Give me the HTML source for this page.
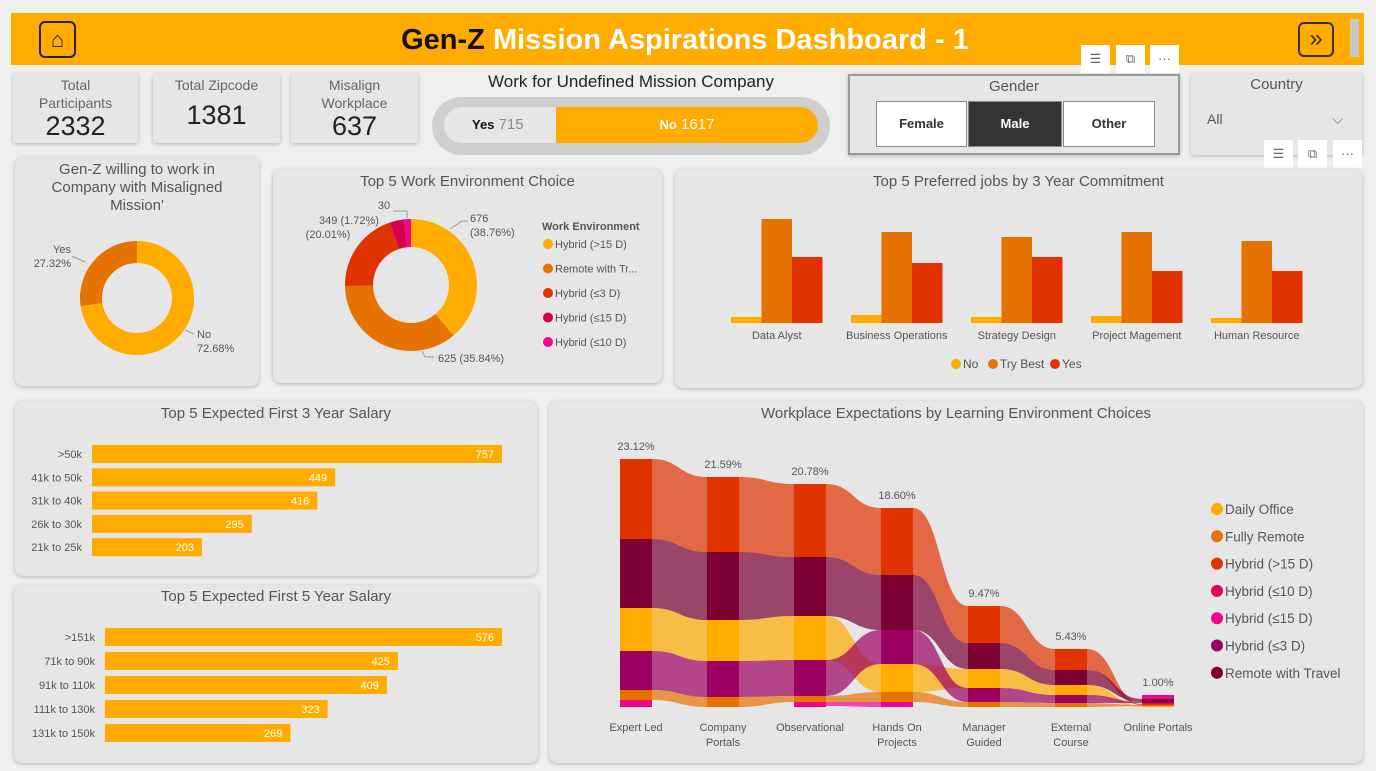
<!DOCTYPE html>
<html><head><meta charset="utf-8">
<style>
*{box-sizing:border-box;margin:0;padding:0}
body{width:1376px;height:771px;overflow:hidden;background:#efefef;font-family:"Liberation Sans Narrow","Liberation Sans",sans-serif;color:#555;position:relative}
.p{position:absolute;background:#e6e6e6;border-radius:8px;box-shadow:0 1px 4px rgba(0,0,0,.25)}
.t{position:absolute;left:0;right:0;text-align:center;font-size:15px;color:#555}
.kpi .l{font-size:14px;color:#666;text-align:center;line-height:18px;margin-top:2px}
.kpi .v{font-size:27px;color:#222;text-align:center}
.btn{position:absolute;border:1px solid #888;background:#fff;font-size:13px;font-weight:bold;color:#333;text-align:center;line-height:44px}
.ic{position:absolute;width:29px;height:28px;background:#fff;color:#666;font-size:13px;text-align:center;line-height:28px}
svg{position:absolute;left:0;top:0}
</style></head><body>
<div style="position:absolute;left:11px;top:13px;width:1353px;height:52px;background:#ffab00"></div>
<div style="position:absolute;left:39px;top:21px;width:37px;height:37px;border:2px solid #222;border-radius:6px;font-size:22px;text-align:center;line-height:33px;color:#222">⌂</div>
<div style="position:absolute;left:300px;top:24px;width:770px;text-align:center;font-family:'Liberation Sans',sans-serif;font-weight:bold;font-size:29px;color:#111">Gen-Z <span style="color:#fff">Mission Aspirations Dashboard - 1</span></div>
<div style="position:absolute;left:1298px;top:22px;width:36px;height:35px;border:2px solid #333;border-radius:6px;font-size:24px;text-align:center;line-height:30px;color:#333">»</div>
<div style="position:absolute;left:1350px;top:19px;width:9px;height:38px;background:#c8c8c8"></div>

<div class="p kpi" style="left:13px;top:74px;width:125px;height:69px;border-radius:2px"><div class="l">Total<br>Participants</div><div class="v" style="line-height:28px">2332</div></div>
<div class="p kpi" style="left:153px;top:74px;width:127px;height:69px;border-radius:2px"><div class="l">Total Zipcode</div><div class="v" style="margin-top:6px">1381</div></div>
<div class="p kpi" style="left:291px;top:74px;width:127px;height:69px;border-radius:2px"><div class="l">Misalign<br>Workplace</div><div class="v" style="line-height:28px">637</div></div>

<div style="position:absolute;left:432px;top:72px;width:398px;text-align:center;font-size:17px;color:#222">Work for Undefined Mission Company</div>
<div style="position:absolute;left:432px;top:97px;width:398px;height:58px;background:#cfcfcf;border-radius:29px"></div>
<div style="position:absolute;left:444px;top:107px;width:112px;height:36px;background:#e6e6e6;border-radius:18px 0 0 18px;font-size:15px;line-height:36px;padding-left:28px;color:#888"><b style="color:#111;font-size:13px">Yes</b> 715</div>
<div style="position:absolute;left:556px;top:107px;width:262px;height:36px;background:#ffab00;border-radius:0 18px 18px 0;font-size:15px;line-height:36px;text-align:center;color:#fff"><b style="font-size:13px">No</b> 1617</div>

<div class="p" style="left:848px;top:74px;width:332px;height:81px;border-radius:0;border:2px solid #999"><div class="t" style="top:2px">Gender</div></div>
<div class="btn" style="left:876px;top:101px;width:91px;height:46px">Female</div>
<div class="btn" style="left:968px;top:101px;width:94px;height:46px;background:#333;color:#fff">Male</div>
<div class="btn" style="left:1063px;top:101px;width:92px;height:46px">Other</div>
<div class="ic" style="left:1081px;top:45px">☰</div>
<div class="ic" style="left:1116px;top:45px">⧉</div>
<div class="ic" style="left:1150px;top:45px">···</div>

<div class="p" style="left:1191px;top:74px;width:171px;height:81px;border-radius:0"><div class="t" style="top:2px">Country</div>
<div style="position:absolute;left:10px;top:32px;width:148px;height:26px;font-size:14px;color:#555;padding-left:6px;line-height:26px">All<span style="position:absolute;right:6px;color:#777">⌵</span></div></div>
<div class="ic" style="left:1264px;top:140px">☰</div>
<div class="ic" style="left:1298px;top:140px">⧉</div>
<div class="ic" style="left:1333px;top:140px">···</div>

<div class="p" style="left:15px;top:157px;width:244px;height:229px"><div class="t" style="top:4px;line-height:18px">Gen-Z willing to work in<br>Company with Misaligned<br>Mission'</div></div>
<div class="p" style="left:273px;top:169px;width:389px;height:214px"><div class="t" style="top:4px">Top 5 Work Environment Choice</div></div>
<div class="p" style="left:675px;top:169px;width:687px;height:219px"><div class="t" style="top:4px">Top 5 Preferred jobs by 3 Year Commitment</div></div>
<div class="p" style="left:15px;top:401px;width:522px;height:175px"><div class="t" style="top:4px">Top 5 Expected First 3 Year Salary</div></div>
<div class="p" style="left:14px;top:585px;width:524px;height:178px"><div class="t" style="top:3px">Top 5 Expected First 5 Year Salary</div></div>
<div class="p" style="left:549px;top:401px;width:814px;height:362px"><div class="t" style="top:4px">Workplace Expectations by Learning Environment Choices</div></div>

<svg id="s" width="1376" height="771" font-family="Liberation Sans Narrow, Liberation Sans, sans-serif"></svg>
<script>
// ---------- data ----------
const misCats=["No","Yes"];
const misVals=[72.68,27.32];
const misLabels=["No\n72.68%","Yes\n27.32%"];
const envCats=["Hybrid (>15 D)","Remote with Tr...","Hybrid (≤3 D)","Hybrid (≤15 D)","Hybrid (≤10 D)"];
const envVals=[676,625,349,60,30];
const jobCats=["Data Alyst","Business Operations","Strategy Design","Project Magement","Human Resource"];
const jobNo=[6,8,6,7,5];
const jobTry=[104,91,86,91,82];
const jobYes=[66,60,66,52,52];
const sal3Cats=[">50k","41k to 50k","31k to 40k","26k to 30k","21k to 25k"];
const sal3Vals=[757,449,416,295,203];
const sal5Cats=[">151k","71k to 90k","91k to 110k","111k to 130k","131k to 150k"];
const sal5Vals=[576,425,409,323,269];
const ribCats=["Expert Led","Company\nPortals","Observational","Hands On\nProjects","Manager\nGuided","External\nCourse","Online Portals"];
const ribPct=["23.12%","21.59%","20.78%","18.60%","9.47%","5.43%","1.00%"];
const ribSeries=["Daily Office","Fully Remote","Hybrid (>15 D)","Hybrid (≤10 D)","Hybrid (≤15 D)","Hybrid (≤3 D)","Remote with Travel"];
const ribDaily=[43,41,44,28,19,10,1];
const ribRemote=[10,10,6,10,5,4,1];
const ribH15=[80,75,73,67,37,21,1];
const ribH10=[1,0,1,0,0,0,1];
const ribHle15=[6,0,4,5,0,0,4];
const ribH3=[39,36,36,34,14,8,1];
const ribTravel=[69,68,59,55,26,15,3];

const S=document.getElementById('s'),NS="http://www.w3.org/2000/svg";
function el(tag,a,txt){const e=document.createElementNS(NS,tag);for(const k in a)e.setAttribute(k,a[k]);if(txt!=null)e.textContent=txt;S.appendChild(e);return e;}
function txt(x,y,s,o){o=o||{};const lines=String(s).split("\n");lines.forEach((l,i)=>{const e=el('text',{x:x,y:y+i*(o.lh||14),'font-size':o.fs||11,fill:o.fill||'#555','text-anchor':o.anchor||'middle','font-weight':o.fw||'normal'},l);

});}

// ---------- donut helper ----------
function donut(cx,cy,R,r,vals,cols,nm){const tot=vals.reduce((a,b)=>a+b,0);let a0=-Math.PI/2;
vals.forEach((v,i)=>{const a1=a0+v/tot*2*Math.PI;const lg=(a1-a0)>Math.PI?1:0;
const p=`M${cx+R*Math.cos(a0)},${cy+R*Math.sin(a0)}A${R},${R} 0 ${lg} 1 ${cx+R*Math.cos(a1)},${cy+R*Math.sin(a1)}L${cx+r*Math.cos(a1)},${cy+r*Math.sin(a1)}A${r},${r} 0 ${lg} 0 ${cx+r*Math.cos(a0)},${cy+r*Math.sin(a0)}Z`;
const e=el('path',{d:p,fill:cols[i]});


a0=a1;});}
donut(137,298,57,35,misVals,["#ffab00","#e67300"],'misaligned');
txt(197,338,misLabels[0],{anchor:'start',name:'donut-label'});
txt(71,253,misLabels[1],{anchor:'end',name:'donut-label'});
el('polyline',{points:"185,330 194,334",stroke:'#999',fill:'none'});
el('polyline',{points:"72,256 85,262",stroke:'#999',fill:'none'});

const envCols=["#ffab00","#e67300","#e03300","#d4004f","#f0058f"];
donut(411,285,66,38,envVals,envCols,'work-env');
txt(470,222,"676\n(38.76%)",{anchor:'start',name:'donut-label'});
txt(438,362,"625 (35.84%)",{anchor:'start',name:'donut-label'});
txt(349,224,"349 (1.72%)",{anchor:'middle',name:'donut-label'});
txt(328,238,"(20.01%)",{anchor:'middle',name:'donut-label'});
txt(384,209,"30",{anchor:'middle',name:'donut-label'});
el('polyline',{points:"450,229 462,221 468,221",stroke:'#999',fill:'none'});
el('polyline',{points:"422,351 425,357 434,357",stroke:'#999',fill:'none'});
el('polyline',{points:"374,222 367,226",stroke:'#999',fill:'none'});
el('polyline',{points:"393,211 407,211 407,218",stroke:'#999',fill:'none'});
txt(542,230,"Work Environment",{anchor:'start',fw:'bold',name:'legend-title'});
envCats.forEach((c,i)=>{const y=244+i*24.5;const d=el('circle',{cx:548,cy:y,r:5,fill:envCols[i]});


txt(555,y+4,c,{anchor:'start',name:'legend-entry'});});

// ---------- grouped bars ----------
const jb0=323,jx0=731,jstep=120,jw=30.5;
const jy=v=>jb0-v;
[[jobNo,"#ffab00"],[jobTry,"#e67300"],[jobYes,"#e03300"]].forEach((s,k)=>{s[0].forEach((v,i)=>{const r=el('rect',{x:jx0+i*jstep+k*jw,y:jy(v),width:jw,height:v,fill:s[1]});

});});
jobCats.forEach((c,i)=>txt(jx0+i*jstep+jw*1.5,339,c,{name:'x-tick-label'}));
[["No","#ffab00",956],["Try Best","#e67300",993],["Yes","#e03300",1055]].forEach(l=>{const d=el('circle',{cx:l[2],cy:364,r:5,fill:l[1]});


txt(l[2]+7,368,l[0],{anchor:'start',fs:12,name:'legend-entry'});});

// ---------- horizontal bars ----------
function hbars(cats,vals,x0,x1,y0,step,nm){const mx=Math.max(...vals);const sx=v=>(x1-x0)*v/mx;
cats.forEach((c,i)=>{const y=y0+i*step;const r=el('rect',{x:x0,y:y-9,width:sx(vals[i]),height:18,fill:'#ffab00'});


txt(x0+sx(vals[i])-8,y+4,vals[i],{anchor:'end',fill:'#fff',name:'bar-value'});
txt(x0-10,y+4,c,{anchor:'end',name:'y-tick-label'});});}
hbars(sal3Cats,sal3Vals,92,502,454,23.3,'salary3');
hbars(sal5Cats,sal5Vals,105,502,637,24,'salary5');

// ---------- ribbon chart ----------
const ribData=[ribDaily,ribRemote,ribH15,ribH10,ribHle15,ribH3,ribTravel];
const ribCols=["#ffab00","#e67300","#e03300","#e8005f","#f0058f","#9c0063","#7d0033"];
const rb=707,rx0=620,rstep=87,rw=32;
const rx=i=>rx0+i*rstep;
const pos=ribData.map(()=>[]);
ribCats.forEach((c,i)=>{const order=ribData.map((s,k)=>k).sort((a,b)=>ribData[a][i]-ribData[b][i]);let y=rb;
order.forEach(k=>{const v=ribData[k][i];pos[k][i]=[y-v,y];y-=v;});});
ribData.forEach((s,k)=>{for(let i=0;i<ribCats.length-1;i++){if(s[i]<=0||s[i+1]<=0)continue;
const xa=rx(i)+rw,xb=rx(i+1),xm=(xa+xb)/2,a=pos[k][i],b=pos[k][i+1];
const d=`M${xa},${a[0]}C${xm},${a[0]} ${xm},${b[0]} ${xb},${b[0]}L${xb},${b[1]}C${xm},${b[1]} ${xm},${a[1]} ${xa},${a[1]}Z`;
const e=el('path',{d:d,fill:ribCols[k],opacity:0.7});

}});
ribData.forEach((s,k)=>{s.forEach((v,i)=>{if(v<=0)return;const r=el('rect',{x:rx(i),y:pos[k][i][0],width:rw,height:v,fill:ribCols[k]});

});});
ribCats.forEach((c,i)=>{const tot=ribData.reduce((a,s)=>a+s[i],0);
txt(rx(i)+rw/2,rb-tot-9,ribPct[i],{name:'column-total-label'});
txt(rx(i)+rw/2,731,c,{lh:15,name:'x-tick-label'});});
ribSeries.forEach((n,k)=>{const y=509+k*27.3;const d=el('circle',{cx:1217,cy:y,r:6,fill:ribCols[k]});


txt(1225,y+5,n,{anchor:'start',fs:13.5,name:'legend-entry'});});
</script>
</body></html>
